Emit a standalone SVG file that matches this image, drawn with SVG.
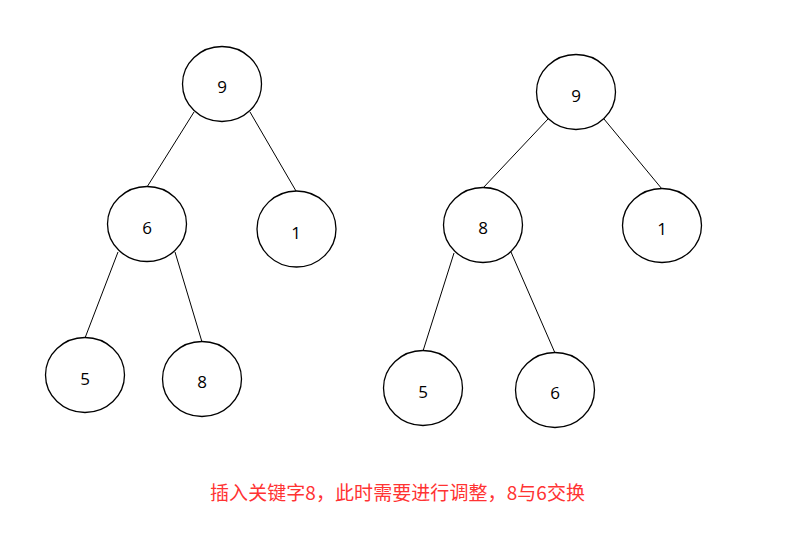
<svg xmlns="http://www.w3.org/2000/svg" width="795" height="541" viewBox="0 0 795 541">
<style>
.n ellipse{fill:#fff;stroke:#000;stroke-width:1.3}
.n text{font-family:"Open Sans","Noto Sans",sans-serif;font-size:17px;fill:#000;text-anchor:middle;dominant-baseline:central}
#edges line{stroke:#000;stroke-width:1}
.cap{font-family:"Noto Sans CJK SC","Noto Sans",sans-serif;font-size:19px;fill:#f33;text-anchor:middle}
</style>
<rect width="795" height="541" fill="#fff"/>
<g id="edges">
<line x1="194" y1="112" x2="147" y2="187"/>
<line x1="250" y1="112" x2="296" y2="191"/>
<line x1="118" y1="252" x2="85" y2="338"/>
<line x1="175" y1="252" x2="202" y2="342"/>
<line x1="548" y1="119" x2="483" y2="188"/>
<line x1="604" y1="119" x2="662" y2="189"/>
<line x1="454" y1="253" x2="423" y2="351"/>
<line x1="511" y1="252" x2="555" y2="353"/>
</g>
<g id="L9" class="n"><ellipse cx="222" cy="84" rx="39.5" ry="37.5"/><text x="222" y="86">9</text></g>
<g id="L6" class="n"><ellipse cx="147" cy="224" rx="39.5" ry="37.5"/><text x="147" y="227">6</text></g>
<g id="L1" class="n"><ellipse cx="296.5" cy="229" rx="39.5" ry="38"/><text x="296" y="232">1</text></g>
<g id="L5" class="n"><ellipse cx="85" cy="375" rx="39.5" ry="37.5"/><text x="85" y="378">5</text></g>
<g id="L8" class="n"><ellipse cx="202" cy="379" rx="39.5" ry="37.5"/><text x="202" y="381">8</text></g>
<g id="R9" class="n"><ellipse cx="576" cy="92" rx="39.5" ry="37.5"/><text x="576" y="95">9</text></g>
<g id="R8" class="n"><ellipse cx="483" cy="225" rx="39.5" ry="37.5"/><text x="483" y="227">8</text></g>
<g id="R1" class="n"><ellipse cx="662" cy="225.5" rx="39.5" ry="37"/><text x="662" y="228">1</text></g>
<g id="R5" class="n"><ellipse cx="423" cy="388" rx="39.5" ry="37.5"/><text x="423" y="391">5</text></g>
<g id="R6" class="n"><ellipse cx="555" cy="390" rx="39.5" ry="37.5"/><text x="555" y="392">6</text></g>
<text class="cap" x="397.5" y="500" textLength="375" lengthAdjust="spacing">插入关键字8，此时需要进行调整，8与6交换</text>
</svg>
